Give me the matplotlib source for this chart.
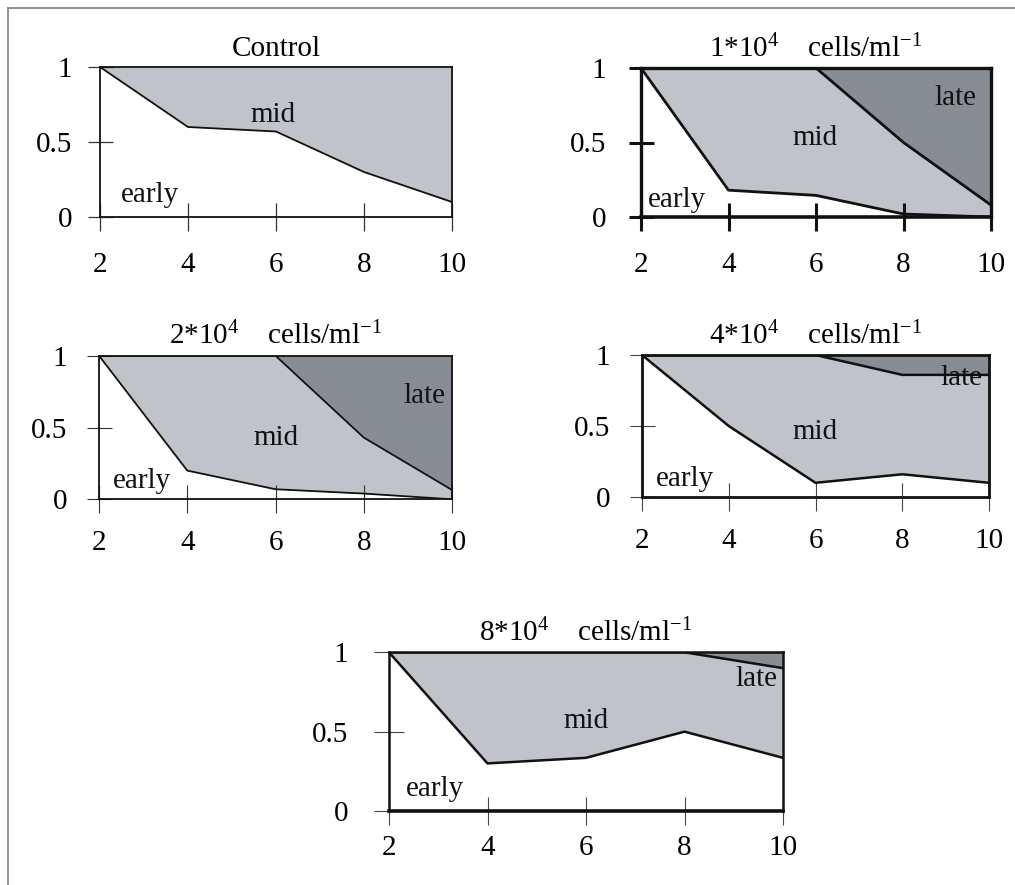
import matplotlib
matplotlib.use("Agg")
import matplotlib.pyplot as plt
from matplotlib.lines import Line2D

plt.rcParams['font.family'] = ['Liberation Serif', 'DejaVu Serif']
plt.rcParams['mathtext.fontset'] = 'custom'
plt.rcParams['mathtext.rm'] = 'Liberation Serif'
plt.rcParams['mathtext.it'] = 'Liberation Serif:italic'

# ---- data ----
weeks = [2, 4, 6, 8, 10]
titles = ["Control",
          r"1*10$^{4}$    cells/ml$^{-1}$",
          r"2*10$^{4}$    cells/ml$^{-1}$",
          r"4*10$^{4}$    cells/ml$^{-1}$",
          r"8*10$^{4}$    cells/ml$^{-1}$"]
# cumulative boundary: top of "early"
early_control = [1.0, 0.60, 0.57, 0.30, 0.10]
early_1e4 = [1.0, 0.18, 0.145, 0.02, 0.0]
early_2e4 = [1.0, 0.20, 0.07, 0.04, 0.0]
early_4e4 = [1.0, 0.50, 0.10, 0.16, 0.10]
early_8e4 = [1.0, 0.30, 0.335, 0.50, 0.335]
# cumulative boundary: top of "mid" (above it is "late")
mid_control = [1.0, 1.0, 1.0, 1.0, 1.0]
mid_1e4 = [1.0, 1.0, 1.0, 0.50, 0.08]
mid_2e4 = [1.0, 1.0, 1.0, 0.43, 0.065]
mid_4e4 = [1.0, 1.0, 1.0, 0.86, 0.86]
mid_8e4 = [1.0, 1.0, 1.0, 1.0, 0.90]
yticks = [0, 0.5, 1]
ytick_labels = ["0", "0.5", "1"]
xtick_labels = ["2", "4", "6", "8", "10"]
stage_labels = ["early", "mid", "late"]

W, H = 1015, 885
fig = plt.figure(figsize=(W / 100, H / 100), dpi=100)

# figure border (top and left)
fig.add_artist(Line2D([8 / W, 8 / W], [0, 1 - 8 / H], color='#808080', lw=1.2))
fig.add_artist(Line2D([8 / W, 1], [1 - 8 / H, 1 - 8 / H], color='#808080', lw=1.2))

# pixel boxes: left, right, top(y=1), bottom(y=0)
boxes = [(100, 452, 67, 217),
         (641, 991, 68, 217),
         (99, 452, 355.7, 499.3),
         (642, 989, 355, 497),
         (389, 783, 652.3, 811)]
earlies = [early_control, early_1e4, early_2e4, early_4e4, early_8e4]
mids = [mid_control, mid_1e4, mid_2e4, mid_4e4, mid_8e4]
spine_w = [1.3, 2.4, 1.3, 2.0, 1.8]
bottom_w = [1.3, 2.6, 1.3, 2.0, 2.6]
tick_w = [0.9, 2.2, 0.8, 0.8, 0.8]
tick_c = ['#333333', '#111111', '#333333', '#444444', '#444444']
line_w = [1.3, 2.0, 1.3, 1.8, 1.8]
xpad = [15, 15, 12, 12, 7]
ypad = [11, 16, 14, 14, 19]
ylen = [18, 18, 18, 18, 21]
# label positions (x, y) for early, mid, late
label_pos = [
    [(3.14, 0.15), (5.93, 0.68), None],
    [(2.82, 0.115), (5.98, 0.53), (9.18, 0.80)],
    [(2.97, 0.13), (6.0, 0.425), (9.37, 0.72)],
    [(2.99, 0.13), (5.99, 0.46), (9.37, 0.84)],
    [(2.93, 0.14), (6.01, 0.57), (9.47, 0.83)],
]

mid_color = '#c0c3c9'
late_color = '#878d93'
FS = 21

for i in range(5):
    l, r, t, b = boxes[i]
    ax = fig.add_axes([l / W, 1 - b / H, (r - l) / W, (b - t) / H])
    e = earlies[i]
    m = mids[i]
    ax.fill_between(weeks, e, m, color=mid_color, lw=0, zorder=1)
    ax.fill_between(weeks, m, [1.0] * len(weeks), color=late_color, lw=0, zorder=1)
    ax.plot(weeks, e, color='#111111', lw=line_w[i], zorder=3, solid_joinstyle='miter')
    if any(v < 1.0 for v in m):
        ax.plot(weeks, m, color='#111111', lw=line_w[i], zorder=3, solid_joinstyle='miter')
    ax.set_xlim(2, 10)
    ax.set_ylim(0, 1)
    ax.set_xticks(weeks)
    ax.set_xticklabels(xtick_labels)
    ax.set_yticks(yticks)
    ax.set_yticklabels(ytick_labels)
    for s in ['top', 'left', 'right']:
        ax.spines[s].set_linewidth(spine_w[i])
        ax.spines[s].set_color('#111111')
    ax.spines['bottom'].set_linewidth(bottom_w[i])
    ax.spines['bottom'].set_color('#111111')
    for s in ax.spines.values():
        s.set_zorder(4)
    ax.tick_params(axis='x', direction='inout', length=20, width=tick_w[i],
                   color=tick_c[i], labelsize=FS, pad=xpad[i])
    ax.tick_params(axis='y', direction='inout', length=ylen[i], width=tick_w[i],
                   color=tick_c[i], labelsize=FS, pad=ypad[i])
    ax.set_title(titles[i], fontsize=FS, pad=8)
    for k, pos in enumerate(label_pos[i]):
        if pos is None:
            continue
        ax.text(pos[0], pos[1], stage_labels[k], fontsize=FS, ha='center',
                va='center', color='#111111', zorder=5)
    ax.set_facecolor('white')

fig.savefig("out.png", dpi=100)
